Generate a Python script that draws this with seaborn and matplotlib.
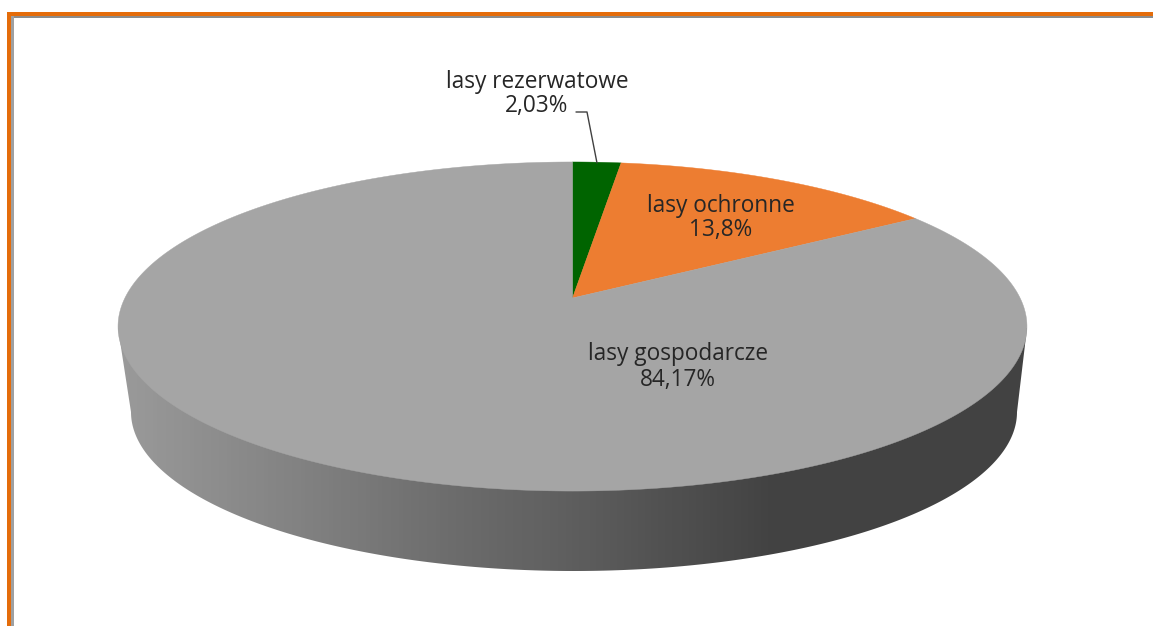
import numpy as np
import matplotlib
matplotlib.use('Agg')
import matplotlib.pyplot as plt
from matplotlib.colors import LinearSegmentedColormap
from matplotlib.patches import Polygon
import seaborn as sns

# ====================== DATA ======================
categories = ['lasy rezerwatowe', 'lasy ochronne', 'lasy gospodarcze']
values = [2.03, 13.8, 84.17]
value_labels = ['2,03%', '13,8%', '84,17%']

# ====================== STYLE ======================
sns.set_theme(style='white')
plt.rcParams['font.family'] = ['Open Sans', 'DejaVu Sans']

palette = sns.color_palette(['#006400', '#ED7D31', '#A5A5A5'])
wall_cmap = LinearSegmentedColormap.from_list('wall', sns.blend_palette(['#9A9A9A', '#6A6A6A', '#424242', '#424242'], 64))
text_color = '#262626'

fig = plt.figure(figsize=(11.53, 6.26), dpi=100)
ax = fig.add_axes([0, 0, 1, 1])
ax.set_xlim(0, 1153)
ax.set_ylim(626, 0)
ax.axis('off')

# ====================== FRAME ======================
ax.fill_between([7, 1153], 12, 16, color='#E46C0A', lw=0)
ax.fill_between([7, 11], 12, 626, color='#E46C0A', lw=0)
ax.fill_between([11, 1153], 16, 18, color='#8C8C8C', lw=0)
ax.fill_between([11, 14], 16, 626, color='#A0A0A0', lw=0)

# ====================== 3D PIE ======================
# circle -> screen, perspective tilt of the pie
apex_x, apex_y = 572.5, 298
tilt = 0.1733
scale_x, scale_y = 447.6, 159.6


def project(theta, r=1.0):
    u = r * np.sin(theta)
    v = r * np.cos(theta)
    d = 1 + tilt * v
    return apex_x + scale_x * u / d, apex_y - scale_y * v / d


# side wall: lower half of bottom ellipse, closed under the top face
t = np.linspace(0, np.pi, 300)
bottom_x = 574 - 443 * np.cos(t)
bottom_y = 412 + 159 * np.sin(t)
wall = Polygon(np.column_stack([np.r_[bottom_x, 1027, 118], np.r_[bottom_y, 328, 328]]),
               closed=True, transform=ax.transData, fc='none', ec='none')
ax.add_patch(wall)
grad = np.interp(np.arange(1153), [0, 120, 560, 850, 1153], [0, 0, 0.42, 0.75, 1.0])
im = ax.imshow(grad[np.newaxis, :], extent=(0, 1153, 626, 0), aspect='auto',
               cmap=wall_cmap, vmin=0, vmax=1, zorder=2)
im.set_clip_path(wall)

# top face slices, clockwise from 12 o'clock
edges = np.r_[0, np.cumsum(values)] / np.sum(values) * 2 * np.pi
for i in range(len(values)):
    th = np.linspace(edges[i], edges[i + 1], 400)
    x, y = project(th)
    ax.fill(np.r_[apex_x, x], np.r_[apex_y, y], color=palette[i], lw=0.3, zorder=3)

# ====================== LABELS ======================
label_pos = [(537, 82, 106), (721, 206, 230), (678, 354, 380)]
for i, (lx, ly1, ly2) in enumerate(label_pos):
    ax.text(lx, ly1, categories[i], ha='center', va='center', fontsize=16.3,
            color=text_color, zorder=5)
    ax.text(lx, ly2, value_labels[i], ha='center', va='center', fontsize=16.3,
            color=text_color, zorder=5)

ax.plot([576, 587, 597], [112, 112, 163], color='#404040', lw=1, zorder=5)

ax.set_xlim(0, 1153)
ax.set_ylim(626, 0)
fig.savefig('out.png', dpi=100, facecolor='white')
